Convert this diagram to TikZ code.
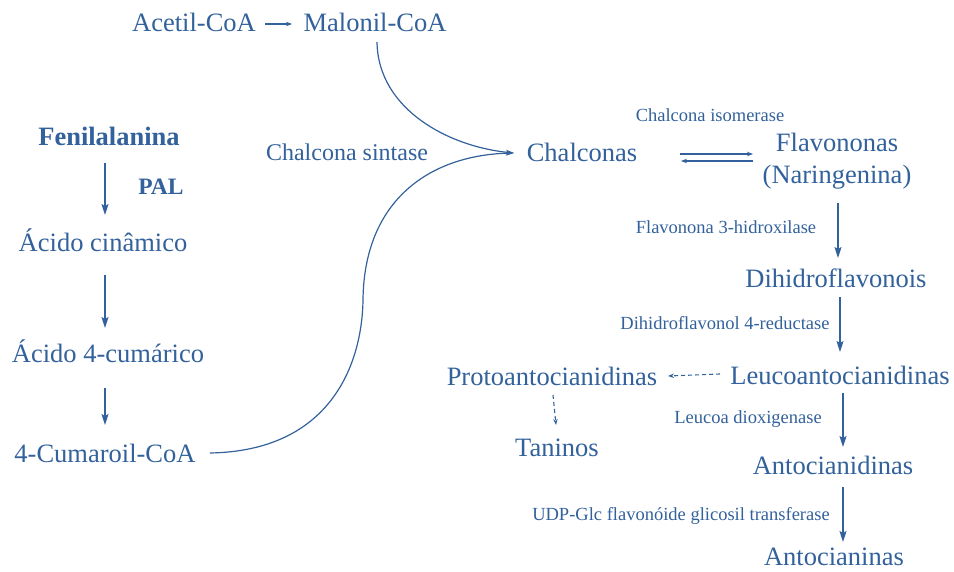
\documentclass[tikz,border=0pt]{standalone}
\usepackage{fontspec}
\setmainfont{Liberation Serif}
\usetikzlibrary{arrows.meta}
\definecolor{pblue}{RGB}{50,97,155}
\tikzset{
  big/.style={inner sep=0pt, text=pblue, font=\fontsize{26.5}{30}\selectfont},
  bigb/.style={inner sep=0pt, text=pblue, font=\fontsize{26.5}{30}\selectfont\bfseries},
  lbl/.style={inner sep=0pt, text=pblue, font=\fontsize{18.5}{22}\selectfont},
  arr/.style={draw=pblue, line width=1.3pt, -{Stealth[length=11pt,width=7pt,inset=2pt]}},
  smallarr/.style={draw=pblue, line width=1.2pt, -{Stealth[length=6pt,width=4.5pt]}},
  dasharr/.style={draw=pblue, line width=1.1pt, dash pattern=on 4pt off 3pt, -{Stealth[length=6pt,width=4.5pt]}},
  curvearr/.style={draw=pblue, line width=1.2pt, -{Stealth[length=8pt,width=5pt]}},
}
\begin{document}
\begin{tikzpicture}[x=1pt,y=-1pt]
\useasboundingbox (0,0) rectangle (954,572);
% nodes
\node[big] (acet) at (194,22) {Acetil-CoA};
\node[big] (malo) at (375,22) {Malonil-CoA};
\node[bigb] (fen) at (109,136) {Fenilalanina};
\node[inner sep=0pt, text=pblue, font=\fontsize{23.5}{28}\selectfont\bfseries] (pal) at (161,187) {PAL};
\node[big] (acin) at (103,240) {Ácido cinâmico};
\node[big] (acum) at (108,351) {Ácido 4-cumárico};
\node[big] (cum) at (105,453) {4-Cumaroil-CoA};
\node[inner sep=0pt, text=pblue, font=\fontsize{24}{28}\selectfont] (cs) at (347,152) {Chalcona sintase};
\node[big] (chal) at (582,152) {Chalconas};
\node[lbl] (ci) at (710,115) {Chalcona isomerase};
\node[big, align=center, font=\fontsize{26.5}{32}\selectfont] (flav) at (837,161) {Flavononas\\(Naringenina)};
\node[lbl] (f3h) at (726,227) {Flavonona 3-hidroxilase};
\node[big] (dihf) at (836,278) {Dihidroflavonois};
\node[lbl] (dfr) at (725,323) {Dihidroflavonol 4-reductase};
\node[big] (leuco) at (840,375) {Leucoantocianidinas};
\node[big] (proto) at (552,376) {Protoantocianidinas};
\node[big] (tan) at (557,448) {Taninos};
\node[lbl] (ldox) at (748,419) {Leucoa dioxigenase};
\node[big] (antoc) at (833,465) {Antocianidinas};
\node[lbl] (ufgt) at (681,516) {UDP-Glc flavonóide glicosil transferase};
\node[big] (antn) at (834,557) {Antocianinas};
% connectors
\draw[smallarr] ([xshift=71pt,yshift=-2pt]acet.center) -- ([xshift=-83pt,yshift=-2pt]malo.center);
\draw[curvearr] ([xshift=2pt,yshift=-20pt]malo.center) .. controls (378,110) and (450,147) .. ([xshift=-68pt,yshift=-1pt]chal.center);
\draw[curvearr] ([xshift=105pt]cum.center) .. controls (330,451) and (362,365) .. (363,300) .. controls (364,200) and (430,155) .. ([xshift=-68pt,yshift=-1pt]chal.center);
\draw[arr] ([xshift=-4pt,yshift=-27pt]fen.center) -- ([xshift=2pt,yshift=25pt]acin.center);
\draw[arr] ([xshift=2pt,yshift=-35pt]acin.center) -- ([xshift=-3pt,yshift=23pt]acum.center);
\draw[arr] ([xshift=-3pt,yshift=-37pt]acum.center) -- ([yshift=28pt]cum.center);
\draw[smallarr] ([xshift=98pt,yshift=-2pt]chal.center) -- ([xshift=-84pt,yshift=7pt]flav.center);
\draw[smallarr] ([xshift=-84pt,yshift=0pt]flav.center) -- ([xshift=99pt,yshift=-9pt]chal.center);
\draw[arr] ([xshift=1pt,yshift=-42pt]flav.center) -- ([xshift=2pt,yshift=20pt]dihf.center);
\draw[arr] ([xshift=4pt,yshift=-19pt]dihf.center) -- ([yshift=23pt]leuco.center);
\draw[dasharr] ([xshift=-120pt,yshift=1pt]leuco.center) -- ([xshift=116pt]proto.center);
\draw[dasharr] ([xshift=1pt,yshift=-19pt]proto.center) -- ([xshift=-1pt,yshift=23pt]tan.center);
\draw[arr] ([xshift=3pt,yshift=-18pt]leuco.center) -- ([xshift=10pt,yshift=18pt]antoc.center);
\draw[arr] ([xshift=10pt,yshift=-22pt]antoc.center) -- ([xshift=9pt,yshift=15pt]antn.center);
\end{tikzpicture}
\end{document}
